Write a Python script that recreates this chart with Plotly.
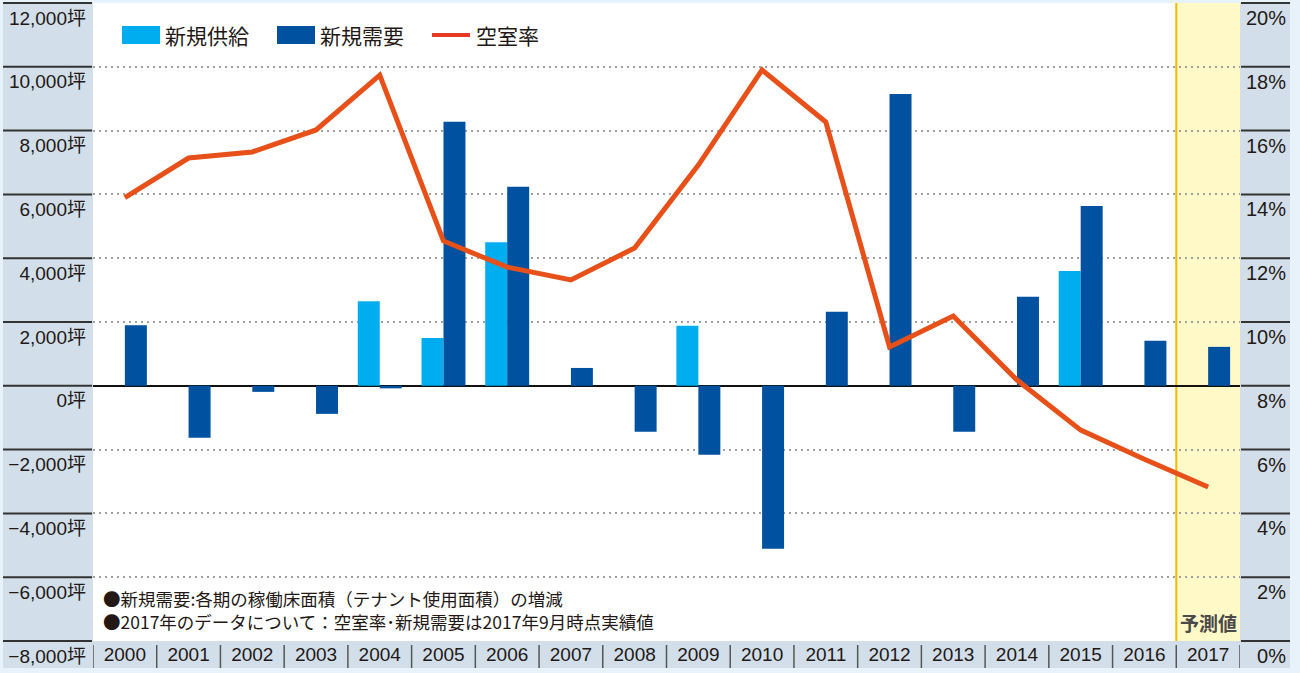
import plotly.graph_objects as go

# ---------------- data ----------------
years = [str(y) for y in range(2000, 2018)]
supply = [0, 0, 0, 0, 2650, 1500, 4500, 0, 0, 1880, 0, 0, 0, 0, 0, 3600, 0, 0]
demand = [1900, -1630, -190, -880, -80, 8280, 6240, 560, -1440, -2160,
          -5110, 2320, 9150, -1440, 2790, 5640, 1410, 1220]
vacancy = [13.9, 15.14, 15.33, 16.02, 17.74, 12.54, 11.72, 11.32, 12.32, 14.92,
           17.9, 16.27, 9.22, 10.19, 8.18, 6.61, 5.7, 4.83]

left_ticks = [-8000, -6000, -4000, -2000, 0, 2000, 4000, 6000, 8000, 10000, 12000]
left_labels = ["−8,000坪", "−6,000坪", "−4,000坪", "−2,000坪", "0坪", "2,000坪",
               "4,000坪", "6,000坪", "8,000坪", "10,000坪", "12,000坪"]
right_ticks = [0, 2, 4, 6, 8, 10, 12, 14, 16, 18, 20]
right_labels = ["\u20070%", "\u20072%", "\u20074%", "\u20076%", "\u20078%", "10%",
                "12%", "14%", "16%", "18%", "20%"]

legend_names = ["新規供給", "新規需要", "空室率"]
notes = ["●新規需要:各期の稼働床面積（テナント使用面積）の増減",
         "●2017年のデータについて：空室率･新規需要は2017年9月時点実績値"]
forecast_label = "予測値"

# ---------------- style ----------------
W, H = 1300, 673
L, R, T, B = 93, 1240, 3, 641   # plot area in px
PW, PH = R - L, B - T
Y_MIN, Y_MAX = -8000, 12000
Y2_MIN, Y2_MAX = 0, 20
C_SUP = "#00AEEF"
C_DEM = "#0052A0"
C_VAC = "#E8501A"
C_PANEL = "#D2DFEA"
C_OUTER = "#E8F2FB"
C_TXT = "#231815"
C_TICK = "#333333"
NUM_FONT = "Liberation Sans, Arial, Noto Sans CJK JP, sans-serif"
JP_FONT = "Noto Sans CJK JP, sans-serif"


# paper coordinates span the whole figure (margins are zero, axes use domains)
def px_x(x):
    return x / W


def px_y(y):
    return 1 - y / H


fig = go.Figure()
fig.add_trace(go.Bar(x=years, y=supply, name=legend_names[0],
                     marker=dict(color=C_SUP, line=dict(width=0)), yaxis="y"))
fig.add_trace(go.Bar(x=years, y=demand, name=legend_names[1],
                     marker=dict(color=C_DEM, line=dict(width=0)), yaxis="y"))
fig.add_trace(go.Scatter(x=years, y=vacancy, name=legend_names[2], mode="lines",
                         line=dict(color=C_VAC, width=5), yaxis="y2"))

shapes = []
# side panels and bottom strip
xl, xr = px_x(3), px_x(1290)
yb, yt = px_y(668), px_y(3)
shapes.append(dict(type="rect", xref="paper", yref="paper", x0=xl, x1=px_x(L), y0=yb, y1=yt,
                   fillcolor=C_PANEL, line=dict(width=0), layer="below"))
shapes.append(dict(type="rect", xref="paper", yref="paper", x0=px_x(R), x1=xr, y0=yb, y1=yt,
                   fillcolor=C_PANEL, line=dict(width=0), layer="below"))
shapes.append(dict(type="rect", xref="paper", yref="paper", x0=px_x(L), x1=px_x(R), y0=yb,
                   y1=px_y(B), fillcolor=C_PANEL, line=dict(width=0), layer="below"))
# forecast band
shapes.append(dict(type="rect", xref="x", yref="paper", x0=16.5, x1=17.5, y0=px_y(B), y1=yt,
                   fillcolor="#FEF9C6", line=dict(width=0), layer="below"))
shapes.append(dict(type="line", xref="x", yref="paper", x0=16.5, x1=16.5, y0=px_y(B), y1=yt,
                   line=dict(color="#F6B800", width=2), layer="between"))
# dark tick lines across the side panels (positions from the tick values)
for v in left_ticks:
    yp = px_y(B - (v - Y_MIN) / (Y_MAX - Y_MIN) * PH)
    shapes.append(dict(type="line", xref="paper", yref="paper", x0=xl, x1=px_x(L - 1),
                       y0=yp, y1=yp, line=dict(color=C_TICK, width=2), layer="above"))
for v in right_ticks:
    yp = px_y(B - (v - Y2_MIN) / (Y2_MAX - Y2_MIN) * PH)
    shapes.append(dict(type="line", xref="paper", yref="paper", x0=px_x(R + 1), x1=xr,
                       y0=yp, y1=yp, line=dict(color=C_TICK, width=2), layer="above"))
# year separators
for i in range(len(years) + 1):
    shapes.append(dict(type="line", xref="x", yref="paper", x0=i - 0.5, x1=i - 0.5,
                       y0=yb, y1=px_y(645), line=dict(color="#555", width=1.5)))

# manual legend
shapes.append(dict(type="rect", xref="paper", yref="paper", x0=px_x(122), x1=px_x(160),
                   y0=px_y(44), y1=px_y(26), fillcolor=C_SUP, line=dict(width=0)))
shapes.append(dict(type="rect", xref="paper", yref="paper", x0=px_x(277), x1=px_x(315),
                   y0=px_y(44), y1=px_y(26), fillcolor=C_DEM, line=dict(width=0)))
shapes.append(dict(type="line", xref="paper", yref="paper", x0=px_x(432), x1=px_x(470),
                   y0=px_y(35), y1=px_y(35), line=dict(color="#E63A25", width=4)))

annotations = []
for name, xpx in zip(legend_names, [163, 318, 474]):
    annotations.append(dict(xref="paper", yref="paper", x=px_x(xpx), y=px_y(35),
                            xanchor="left", yanchor="middle", showarrow=False, text=name,
                            font=dict(family=JP_FONT, size=21, color=C_TXT)))
annotations.append(dict(xref="paper", yref="paper", x=px_x(101), y=px_y(610),
                        xanchor="left", yanchor="middle", align="left", showarrow=False,
                        text="<br>".join(notes),
                        font=dict(family=JP_FONT, size=17.5, color=C_TXT)))
annotations.append(dict(xref="x", yref="paper", x=17, y=px_y(622), xanchor="center",
                        yanchor="middle", showarrow=False, text="<b>" + forecast_label + "</b>",
                        font=dict(family=JP_FONT, size=19, color="#4a4a4a")))

x_dom = [L / W, R / W]
y_dom = [1 - B / H, 1 - T / H]

fig.update_layout(
    width=W, height=H,
    margin=dict(l=0, r=0, t=0, b=0, pad=0, autoexpand=False),
    paper_bgcolor=C_OUTER, plot_bgcolor="white",
    barmode="group", bargap=0.31, bargroupgap=0,
    showlegend=False, hovermode=False,
    shapes=shapes, annotations=annotations,
    xaxis=dict(domain=x_dom, type="category", range=[-0.5, 17.5], showgrid=False,
               zeroline=False, showline=False, ticks="", ticklen=0, automargin=False,
               tickfont=dict(family=NUM_FONT, size=19, color=C_TXT)),
    yaxis=dict(domain=y_dom, range=[Y_MIN, Y_MAX], tickvals=left_ticks, ticktext=left_labels,
               showgrid=True, gridcolor="#A0A0A0", gridwidth=2, griddash="2px,4px",
               zeroline=True, zerolinecolor="#111", zerolinewidth=2, automargin=False,
               showline=False, ticks="", ticklen=0, ticklabelshift=15,
               ticklabelstandoff=6, ticklabeloverflow="allow",
               tickfont=dict(family=NUM_FONT, size=19, color=C_TXT)),
    yaxis2=dict(range=[Y2_MIN, Y2_MAX], overlaying="y", side="right", tickvals=right_ticks,
                ticktext=right_labels, showgrid=False, zeroline=False, showline=False,
                ticks="", ticklen=0, ticklabelshift=15, ticklabelstandoff=5,
                ticklabeloverflow="allow", automargin=False,
                tickfont=dict(family=NUM_FONT, size=20, color=C_TXT)),
)

fig.write_html("out.html")
